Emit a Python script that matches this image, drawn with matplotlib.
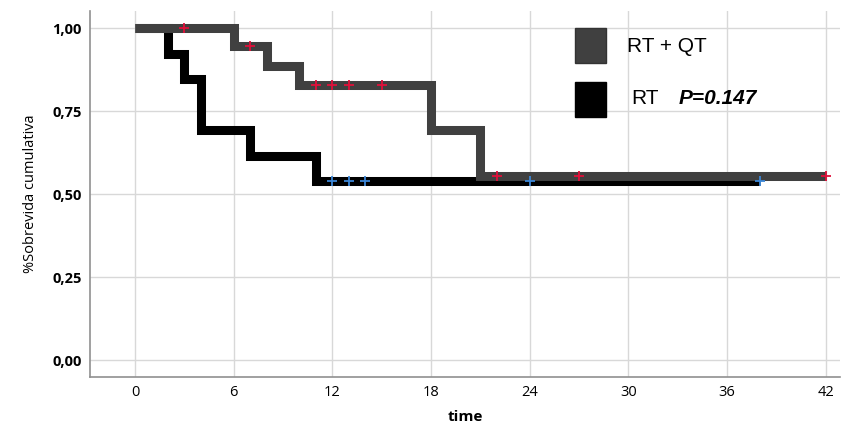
import matplotlib.pyplot as plt
import numpy as np

# tempos e sobrevida (Kaplan-Meier)
t_rtqt = [0, 6, 8, 10, 18, 21, 42]
s_rtqt = [1.0, 0.945, 0.887, 0.829, 0.692, 0.553, 0.553]
cens_rtqt_t = [3, 7, 11, 12, 13, 15, 22, 27, 42]
cens_rtqt_s = [1.0, 0.945, 0.829, 0.829, 0.829, 0.829, 0.553, 0.553, 0.553]

t_rt = [0, 2, 3, 4, 7, 11, 38]
s_rt = [1.0, 0.923, 0.846, 0.692, 0.615, 0.538, 0.538]
cens_rt_t = [12, 13, 14, 24, 38]
cens_rt_s = [0.538, 0.538, 0.538, 0.538, 0.538]

xticks = [0, 6, 12, 18, 24, 30, 36, 42]
yticks = [0.0, 0.25, 0.5, 0.75, 1.0]
ytick_labels = ['0,00', '0,25', '0,50', '0,75', '1,00']

plt.rcParams['font.family'] = ['Open Sans', 'DejaVu Sans']

fig = plt.figure(figsize=(8.46, 4.28), dpi=100)
ax = fig.add_axes([0.1064, 0.119, 0.887, 0.855])

# RT (preto) primeiro, RT+QT por cima
ax.step(t_rt, s_rt, where='post', color='black', lw=6.5,
        solid_joinstyle='miter', solid_capstyle='butt', zorder=3)
ax.step(t_rtqt, s_rtqt, where='post', color='#404040', lw=6.5,
        solid_joinstyle='miter', solid_capstyle='butt', zorder=4)
ax.plot(cens_rt_t, cens_rt_s, '+', color='#3b86d6', ms=6.5, mew=1.3, zorder=5)
ax.plot(cens_rtqt_t, cens_rtqt_s, '+', color='#e0103a', ms=6.5, mew=1.3, zorder=5)

ax.set_xlim(-2.74, 42.9)
ax.set_ylim(-0.051, 1.051)
ax.set_xticks(xticks)
ax.set_yticks(yticks)
ax.set_yticklabels(ytick_labels, fontweight='bold', fontsize=10.5)
ax.tick_params(axis='x', labelsize=10.5)
ax.tick_params(length=0, pad=6)
ax.grid(True, color='#d8d8d8', lw=1)
ax.set_axisbelow(True)
for side in ['top', 'right']:
    ax.spines[side].set_visible(False)
for side in ['left', 'bottom']:
    ax.spines[side].set_color('#909090')
    ax.spines[side].set_linewidth(1.2)

ax.set_xlabel('time', fontweight='bold', fontsize=11, labelpad=7)
ax.set_ylabel('%Sobrevida cumulativa', fontsize=10.5, labelpad=10)

# legenda manual
fig.patches.append(plt.Rectangle((575 / 846, 1 - 63 / 428), 31 / 846, 35 / 428,
                                 transform=fig.transFigure, facecolor='#404040',
                                 edgecolor='#333333', lw=1))
fig.patches.append(plt.Rectangle((575 / 846, 1 - 117 / 428), 31 / 846, 35 / 428,
                                 transform=fig.transFigure, facecolor='black',
                                 edgecolor='black', lw=1))
fig.text(627 / 846, 1 - 47 / 428, 'RT + QT', fontsize=15, va='center',
         family=['Liberation Sans', 'DejaVu Sans'])
fig.text(631 / 846, 1 - 98 / 428, 'RT', fontsize=15, va='center',
         family=['Liberation Sans', 'DejaVu Sans'])
fig.text(679 / 846, 1 - 98 / 428, 'P=0.147', fontsize=15, va='center',
         fontweight='bold', fontstyle='italic',
         family=['Liberation Sans', 'DejaVu Sans'])

plt.savefig('out.png', dpi=100)
